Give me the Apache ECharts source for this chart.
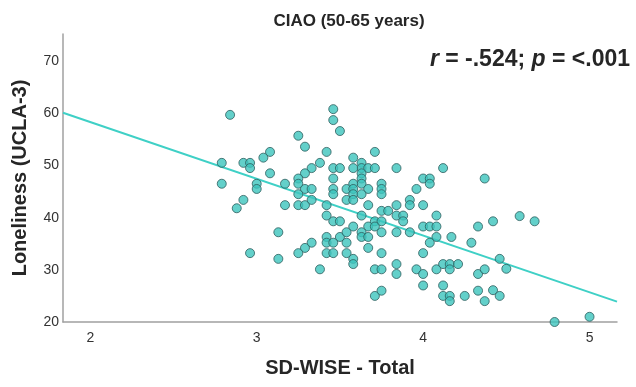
<!DOCTYPE html>
<html>
<head>
<meta charset="utf-8">
<script src="https://cdn.jsdelivr.net/npm/echarts@6/dist/echarts.min.js"></script>
<style>
  html, body { margin: 0; padding: 0; background: #fff; }
  #chart { width: 636px; height: 387px; }
</style>
</head>
<body>
<div id="chart"></div>
<script>
// SD-WISE total vs loneliness
var wiseScores = [
  2.84, 3.46, 3.46, 3.50, 3.25, 3.29, 3.42, 3.08, 3.04, 2.79,
  2.92, 2.96, 2.96, 3.38, 3.33, 3.29, 3.46, 3.50, 3.08, 3.25,
  3.46, 2.79, 3.00, 3.00, 3.17, 3.25, 3.29, 3.33, 3.46, 3.46,
  3.54, 3.54, 3.25, 2.92, 2.88, 3.17, 3.25, 3.29, 3.33, 3.42,
  3.42, 3.46, 3.50, 3.13, 3.42, 3.42, 3.46, 3.50, 3.54, 3.54,
  3.33, 3.29, 3.25, 3.42, 3.46, 3.54, 2.96, 3.13, 3.38,
  3.71, 3.58, 3.63, 3.63, 3.58, 3.67, 3.71, 3.84, 4.12, 3.63,
  3.63, 3.63, 3.58, 3.58, 3.67, 3.58, 3.63, 3.58, 3.75, 3.75,
  3.75, 4.00, 4.04, 4.04, 3.96, 3.92, 3.92, 4.00, 3.84, 3.67,
  4.37,
  3.75, 3.79, 3.84, 3.88, 3.88, 3.63, 3.71, 3.75, 4.08, 4.00,
  4.04, 4.08, 3.58, 3.67, 3.71, 4.33, 3.63, 3.75, 3.84, 3.92,
  4.08, 4.17, 4.04, 4.29, 3.63, 3.67, 3.67, 3.58, 3.58, 3.75,
  4.00, 3.84, 3.84, 3.71, 3.75, 3.96, 4.00, 4.00, 4.08, 4.12,
  4.16, 4.21, 4.16, 4.12, 4.12, 4.16, 4.16, 4.25, 4.33, 4.37,
  4.33, 4.37, 3.71, 3.75,
  4.58, 4.67, 4.42, 4.46, 4.50, 4.42, 4.46, 4.79, 5.00
];
var lonelinessScores = [
  59.7, 60.8, 58.7, 56.6, 55.7, 53.6, 52.6, 52.6, 51.5, 50.5,
  50.5, 50.5, 49.5, 50.5, 49.5, 48.5, 49.5, 49.5, 48.5, 47.5,
  47.5, 46.5, 46.5, 45.5, 46.5, 46.5, 45.5, 45.5, 45.5, 44.5,
  45.5, 43.4, 44.5, 43.4, 41.8, 42.4, 42.4, 42.4, 43.4, 42.4,
  40.4, 39.3, 39.3, 37.2, 36.3, 35.2, 35.2, 36.3, 37.2, 35.2,
  35.2, 34.2, 33.2, 33.2, 33.2, 33.2, 33.2, 32.1, 30.1,
  52.6, 51.5, 50.5, 49.5, 49.5, 49.5, 49.5, 49.5, 49.5, 48.5,
  47.5, 46.5, 46.5, 45.5, 45.5, 44.5, 44.5, 43.4, 46.5, 45.5,
  44.5, 47.5, 47.5, 46.5, 45.5, 43.4, 42.4, 42.4, 42.4, 42.4,
  47.5,
  41.3, 41.3, 40.4, 40.4, 39.3, 40.4, 39.3, 39.3, 40.4, 38.3,
  38.3, 38.3, 38.3, 38.3, 38.3, 38.3, 37.2, 37.2, 37.2, 37.2,
  36.3, 36.3, 35.2, 35.2, 36.3, 36.3, 34.2, 32.1, 31.1, 33.2,
  33.2, 31.1, 29.2, 30.1, 30.1, 30.1, 29.2, 27.0, 30.1, 31.1,
  31.1, 31.1, 30.1, 27.0, 25.0, 25.0, 24.0, 25.0, 29.2, 30.1,
  26.0, 24.0, 25.0, 26.0,
  40.3, 39.3, 39.3, 32.1, 30.2, 26.1, 25.0, 20.0, 21.0
];

// fit line end points (at the axis ends)
var fitX = [1.836, 5.165];
var fitY = [60.1, 23.9];

var xTicks = [2, 3, 4, 5];
var yTicks = [20, 30, 40, 50, 60, 70];

var points = wiseScores.map(function (x, i) {
  return [x, lonelinessScores[i]];
});
var fitLine = fitX.map(function (x, i) {
  return [x, fitY[i]];
});

var font = '"Liberation Sans", Arial, sans-serif';
var chart = echarts.init(document.getElementById('chart'));

chart.setOption({
  animation: false,
  backgroundColor: '#fff',
  title: {
    text: 'CIAO (50-65 years)',
    left: 344,
    top: 8,
    textAlign: 'center',
    textStyle: { fontFamily: font, fontSize: 17, fontWeight: 'bold', color: '#262626' }
  },
  graphic: [{
    type: 'text',
    right: 6,
    top: 48,
    style: {
      text: '{i|r} = -.524; {i|p} = <.001',
      font: 'bold 23px ' + font,
      fill: '#262626',
      rich: {
        i: { fontStyle: 'italic', fontWeight: 'bold', fontSize: 23, fontFamily: font, fill: '#262626' }
      }
    }
  }],
  grid: { left: 63, right: 19, top: 34, bottom: 65 },
  xAxis: {
    type: 'value',
    min: 1.836,
    max: 5.165,
    name: 'SD-WISE - Total',
    nameLocation: 'middle',
    nameGap: 36,
    nameTextStyle: { fontFamily: font, fontSize: 20, fontWeight: 'bold', color: '#262626' },
    axisLine: { show: true, lineStyle: { color: '#a0a0a0', width: 1.5 } },
    axisTick: { show: false },
    splitLine: { show: false },
    axisLabel: {
      customValues: xTicks,
      margin: 9,
      fontFamily: font,
      fontSize: 14,
      color: '#333'
    }
  },
  yAxis: {
    type: 'value',
    min: 20,
    max: 75.2,
    name: 'Loneliness (UCLA-3)',
    nameLocation: 'middle',
    nameRotate: 90,
    nameGap: 33,
    nameTextStyle: { fontFamily: font, fontSize: 20, fontWeight: 'bold', color: '#262626' },
    axisLine: { show: true, lineStyle: { color: '#a0a0a0', width: 1.5 } },
    axisTick: { show: false },
    splitLine: { show: false },
    axisLabel: {
      customValues: yTicks,
      margin: 4,
      padding: [7, 0, 0, 0],
      fontFamily: font,
      fontSize: 14,
      color: '#333'
    }
  },
  series: [{
    type: 'line',
    data: fitLine,
    symbol: 'none',
    lineStyle: { color: '#3fd0c6', width: 2 },
    silent: true,
    z: 1
  }, {
    type: 'scatter',
    data: points,
    symbol: 'circle',
    symbolSize: 9,
    itemStyle: { color: '#3cc4bd', borderColor: '#2e5e5e', borderWidth: 1 },
    z: 2
  }]
});
</script>
</body>
</html>
